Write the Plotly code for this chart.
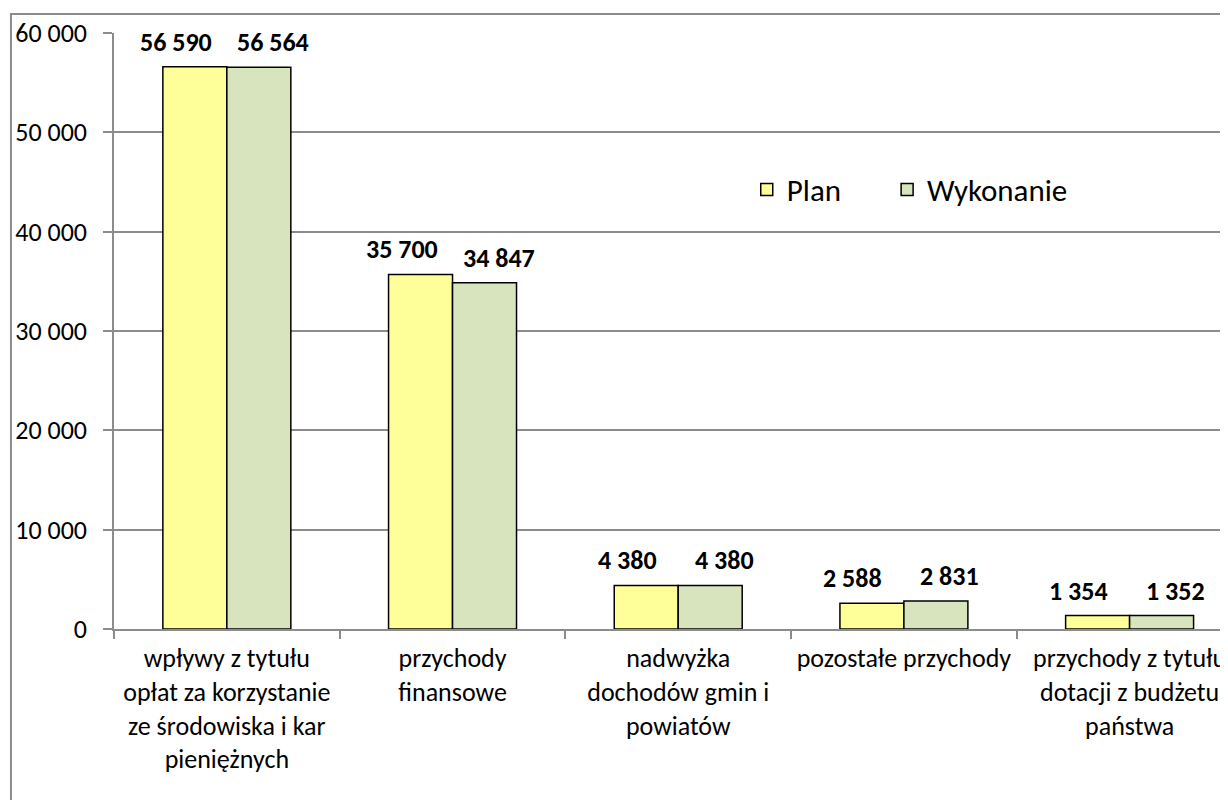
import plotly.graph_objects as go

categories = [
    "wpływy z tytułu<br>opłat za korzystanie<br>ze środowiska i kar<br>pieniężnych",
    "przychody<br>finansowe",
    "nadwyżka<br>dochodów gmin i<br>powiatów",
    "pozostałe przychody",
    "przychody z tytułu<br>dotacji z budżetu<br>państwa",
]
plan = [56590, 35700, 4380, 2588, 1354]
wykonanie = [56564, 34847, 4380, 2831, 1352]
y_ticks = [0, 10000, 20000, 30000, 40000, 50000, 60000]

FONT = "Carlito, Calibri, Lato, sans-serif"
GRID = "#8c8c8c"

fig = go.Figure()
fig.add_trace(go.Bar(name="Plan", x=categories, y=plan, legend="legend",
                     marker=dict(color="#FFFF99", line=dict(color="black", width=1.5))))
fig.add_trace(go.Bar(name="Wykonanie", x=categories, y=wykonanie, legend="legend2",
                     marker=dict(color="#D7E4BD", line=dict(color="black", width=1.5))))

ann = []
for series, shift in ((plan, -51), (wykonanie, 46)):
    for cat, v in zip(categories, series):
        ann.append(dict(x=cat, y=v, xref="x", yref="y", text=f"{v:,}".replace(",", " "),
                        showarrow=False, yanchor="bottom", xshift=shift, yshift=7,
                        font=dict(family=FONT, size=26, color="black", weight="bold")))

legend_style = dict(orientation="h", y=0.737, xanchor="left", yanchor="middle",
                    font=dict(family=FONT, size=31), bgcolor="rgba(0,0,0,0)",
                    itemwidth=30)

fig.update_layout(
    width=1228, height=800,
    margin=dict(l=106, r=8, t=25, b=179, autoexpand=False),
    paper_bgcolor="white", plot_bgcolor="white",
    barmode="group", bargap=0.433, bargroupgap=0,
    separators=", ",
    font=dict(family=FONT, size=26, color="black"),
    showlegend=True,
    legend=dict(x=0.568, **legend_style),
    legend2=dict(x=0.694, **legend_style),
    annotations=ann,
    shapes=[dict(type="rect", xref="paper", yref="paper",
                 x0=-0.0925, x1=1.1, y0=-0.5, y1=1.032,
                 line=dict(color="#8c8c8c", width=2), layer="below")],
)
fig.update_xaxes(
    type="category", range=[-0.5, 4.436],
    showline=True, linecolor=GRID, linewidth=1.5,
    ticks="outside", tickson="boundaries", ticklen=8, tickcolor=GRID, tickwidth=1.5,
    showgrid=False, tickfont=dict(family=FONT, size=26), tickangle=0,
    ticklabelstandoff=5,
)
fig.update_yaxes(
    range=[0, 60000], tickvals=y_ticks, tickformat=",d",
    showline=True, linecolor=GRID, linewidth=1.5,
    ticks="outside", ticklen=9, tickcolor=GRID, tickwidth=1.5,
    showgrid=True, gridcolor=GRID, gridwidth=1.5, zeroline=False,
    tickfont=dict(family=FONT, size=26), ticklabelstandoff=11,
)

fig.write_html("out.html")
